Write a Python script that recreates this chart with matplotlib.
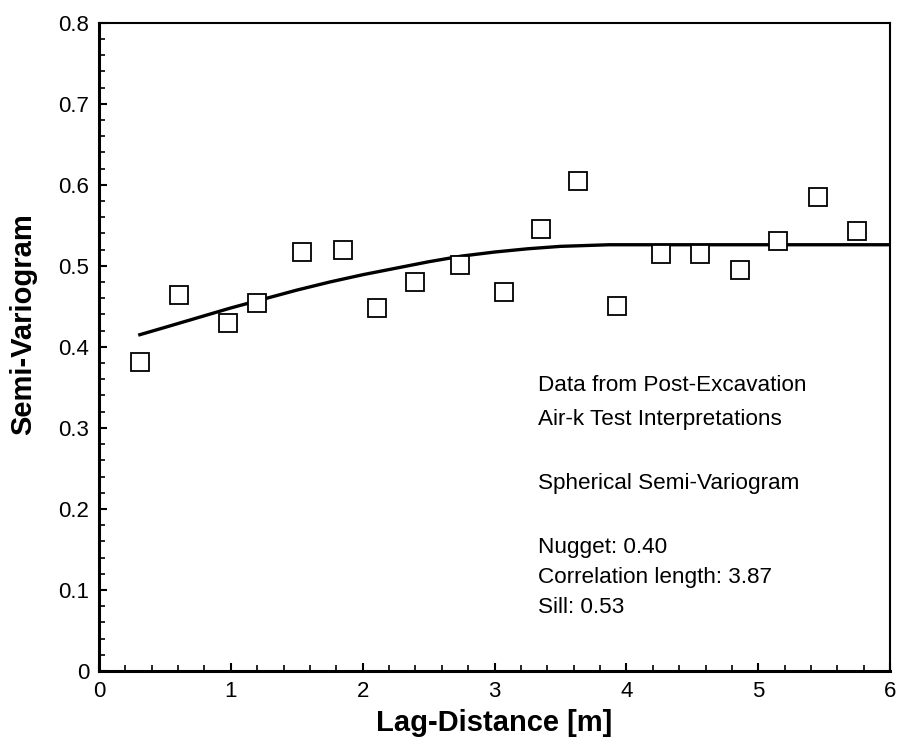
import matplotlib.pyplot as plt
from matplotlib.ticker import MultipleLocator

plt.rcParams['font.family'] = ['Liberation Sans', 'DejaVu Sans']

lag = [0.31, 0.61, 0.98, 1.20, 1.54, 1.85, 2.11, 2.40, 2.74, 3.07,
       3.35, 3.63, 3.93, 4.26, 4.56, 4.86, 5.15, 5.45, 5.75]
gamma = [0.381, 0.464, 0.430, 0.454, 0.517, 0.519, 0.448, 0.480, 0.501, 0.468,
         0.545, 0.605, 0.450, 0.515, 0.515, 0.495, 0.531, 0.585, 0.543]

# fitted spherical model curve
fit_x = [0.31, 0.5, 0.75, 1.0, 1.25, 1.5, 1.75, 2.0, 2.25, 2.5, 2.75,
         3.0, 3.25, 3.5, 3.87, 6.0]
fit_y = [0.415, 0.424, 0.436, 0.448, 0.459, 0.470, 0.480, 0.489, 0.497,
         0.505, 0.512, 0.517, 0.521, 0.524, 0.526, 0.526]

notes = ["Data from Post-Excavation", "Air-k Test Interpretations",
         "Spherical Semi-Variogram",
         "Nugget: 0.40", "Correlation length: 3.87", "Sill: 0.53"]
notes_y = [0.352, 0.310, 0.231, 0.153, 0.115, 0.078]

fig = plt.figure(figsize=(8.99, 7.42), dpi=100)
ax = fig.add_axes([0.1101, 0.0957, 0.880, 0.8737])

ax.plot(fit_x, fit_y, color='black', lw=2.4)
ax.plot(lag, gamma, ls='none', marker='s', ms=12.5, mfc='white', mec='black', mew=1.3)

for s, yy in zip(notes, notes_y):
    ax.text(3.33, yy, s, fontsize=16.2, va='center', ha='left')

ax.set_xlim(0, 6)
ax.set_ylim(0, 0.8)
ax.set_xticks(range(7))
ax.set_xticklabels([str(i) for i in range(7)])
ax.set_yticks([i / 10 for i in range(9)])
ax.set_yticklabels(['0'] + ['%.1f' % (i / 10) for i in range(1, 9)])
ax.xaxis.set_minor_locator(MultipleLocator(0.2))
ax.yaxis.set_minor_locator(MultipleLocator(0.02))
ax.tick_params(which='both', direction='in', top=False, right=False, labelsize=16, width=1.5, pad=7)
ax.tick_params(which='major', length=6)
ax.tick_params(which='minor', length=4, width=1.2)
for sp in ax.spines.values():
    sp.set_linewidth(1.5)
ax.spines['left'].set_linewidth(2.2)
ax.spines['bottom'].set_linewidth(2.2)

ax.set_xlabel('Lag-Distance [m]', fontsize=21, fontweight='bold', labelpad=5)
ax.set_ylabel('Semi-Variogram', fontsize=21, fontweight='bold')
ax.yaxis.set_label_coords(-0.078, 0.535)

plt.savefig('out.png', dpi=100)
